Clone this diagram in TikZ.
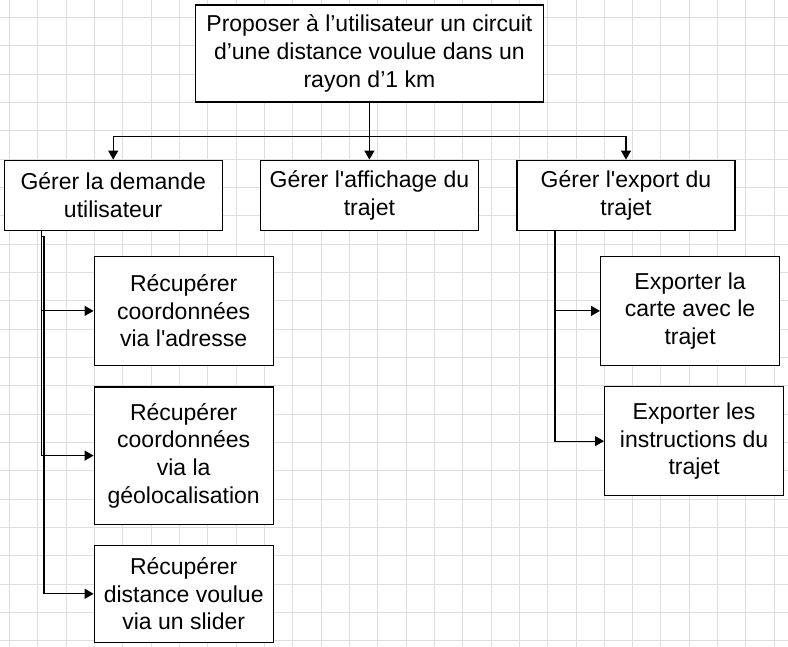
\documentclass[tikz,border=0pt]{standalone}
\usepackage{fontspec}
\setmainfont{Liberation Sans}[Ligatures=TeXOff]
\usepackage{xcolor}
\usepackage{tikz}
\usetikzlibrary{arrows.meta, positioning, calc}
\definecolor{gridgray}{RGB}{222,222,222}
\tikzstyle{goal} = [draw, rectangle, fill=white, line width=1.2pt, minimum width=348pt, minimum height=97pt, inner sep=0pt, align=center, font=\fontsize{23}{27.6}\selectfont]
\tikzstyle{task} = [goal, minimum width=218pt, minimum height=70pt]
\tikzstyle{subtask} = [goal, minimum width=179pt, minimum height=109pt]
\tikzstyle{arrow} = [draw, line width=1.2pt, -{Triangle[length=9pt, width=10pt]}]
\tikzstyle{gridline} = [draw=gridgray, line width=1pt]

\begin{document}
\begin{tikzpicture}[node distance=25pt, auto]
    \useasboundingbox (0,0) rectangle (788pt,-647pt);
    \fill [white] (0,0) rectangle (788pt,-647pt);
    \foreach \i in {0,...,27} \draw [gridline] (9.4pt+\i*28.33pt,0) -- (9.4pt+\i*28.33pt,-647pt);
    \foreach \j in {0,...,22} \draw [gridline] (0,-17.5pt-\j*28.33pt) -- (788pt,-17.5pt-\j*28.33pt);

    \node (goal) [goal] at (369.4pt,-53.5pt) {Proposer à l’utilisateur un circuit\\d’une distance voulue dans un\\rayon d’1 km};
    \node (affichage) [task, below=57pt of goal] {Gérer l'affichage du\\trajet};
    \node (demande) [task, left=37pt of affichage] {Gérer la demande\\utilisateur};
    \node (export) [task, right=37.4pt of affichage] {Gérer l'export du\\trajet};

    \node (adresse) [subtask, below right=25pt and 90pt of demande.south west] {Récupérer\\coordonnées\\via l'adresse};
    \node (geoloc) [subtask, below=20.5pt of adresse, minimum height=137pt] {Récupérer\\coordonnées\\via la\\géolocalisation};
    \node (slider) [subtask, below=20pt of geoloc, minimum height=97pt] {Récupérer\\distance voulue\\via un slider};

    \node (carte) [subtask, below right=25pt and 83.6pt of export.south west] {Exporter la\\carte avec le\\trajet};
    \node (instructions) [subtask, below=20pt of carte, xshift=4pt] {Exporter les\\instructions du\\trajet};

    \coordinate [below=34pt of goal] (bus);
    \draw [arrow] (goal) -- (affichage);
    \draw [arrow] (bus) -| (demande);
    \draw [arrow] (bus) -| (export);

    \coordinate (demtap) at ([xshift=38pt]demande.south west);
    \draw [arrow] (demtap) |- (adresse);
    \draw [arrow] (demtap) |- (geoloc);
    \draw [arrow] (demtap) -- ++(0,-5.5pt) -- ++(2.4pt,0) |- (slider);

    \coordinate (exptap) at ([xshift=38.6pt]export.south west);
    \draw [arrow] (exptap) |- (carte);
    \draw [arrow] (exptap) |- (instructions);
\end{tikzpicture}
\end{document}
